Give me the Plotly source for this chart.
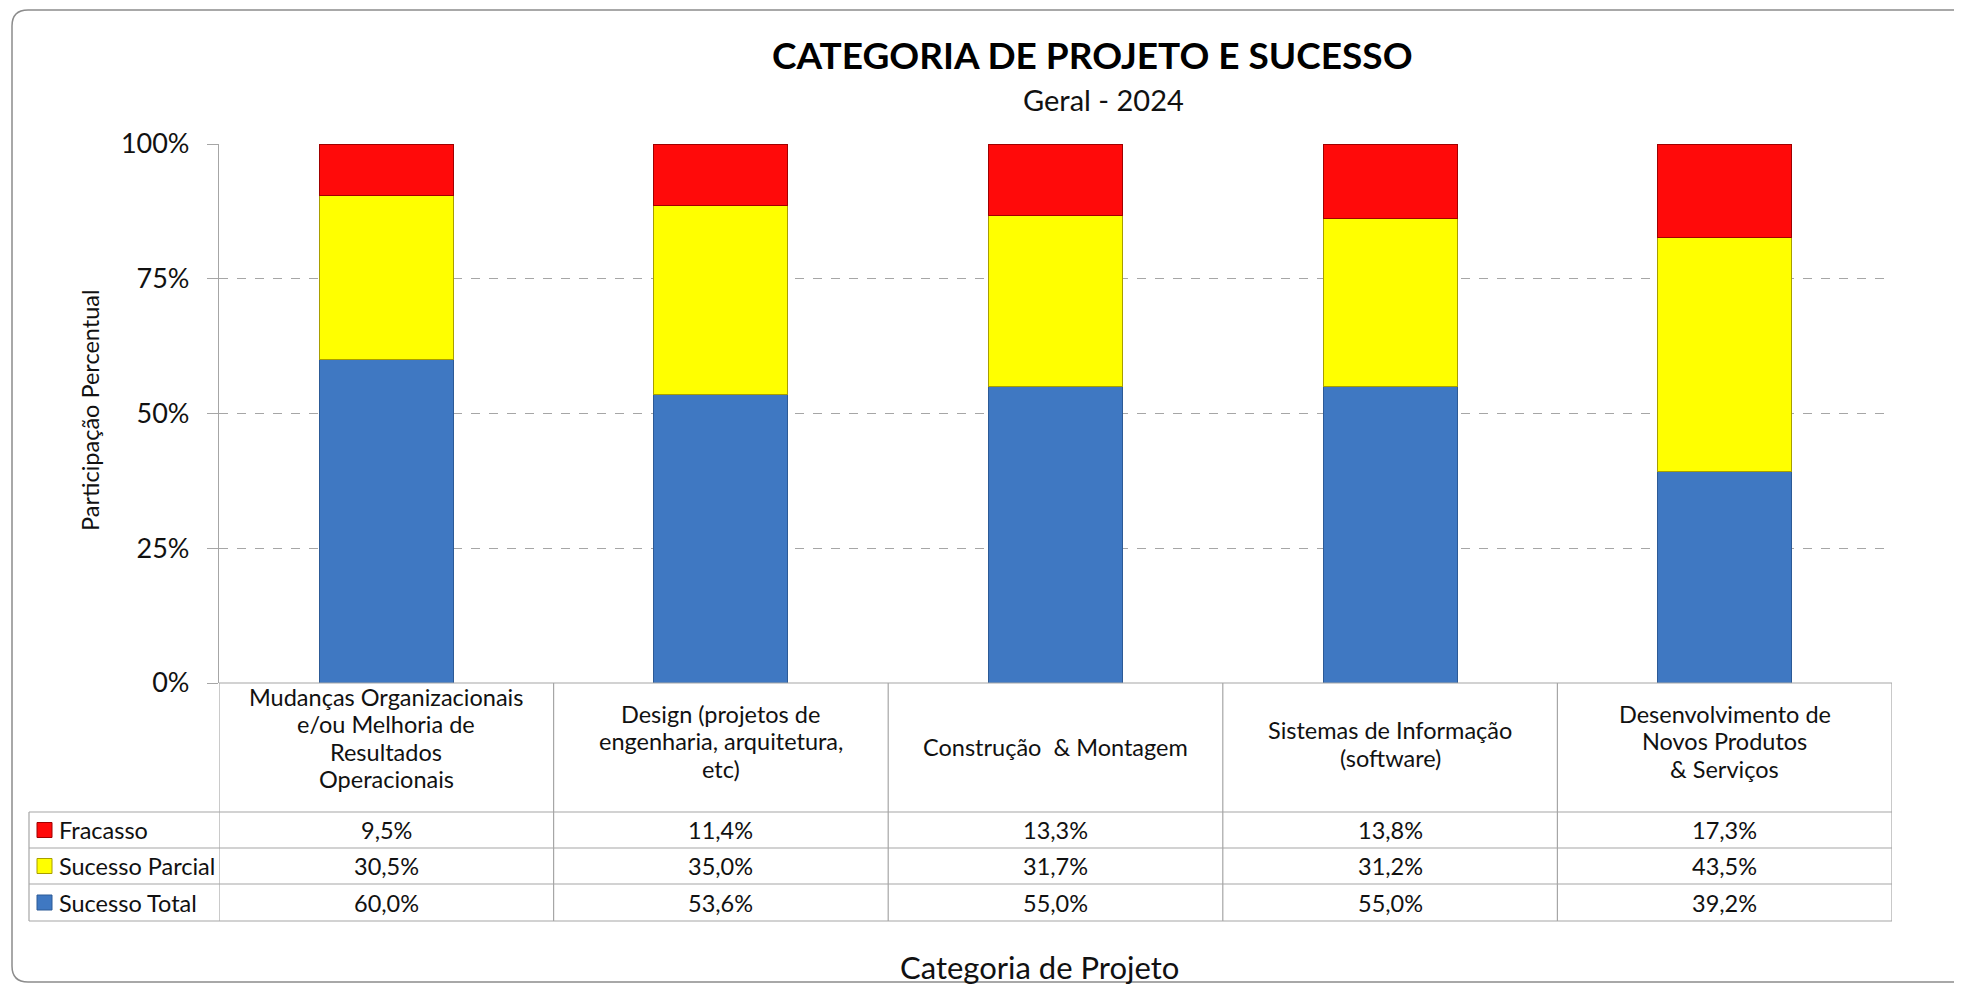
import plotly.graph_objects as go

# dados (participacao percentual por categoria)
categorias = [
    "Mudanças Organizacionais<br>e/ou Melhoria de<br>Resultados<br>Operacionais",
    "Design (projetos de<br>engenharia, arquitetura,<br>etc)",
    "Construção  & Montagem",
    "Sistemas de Informação<br>(software)",
    "Desenvolvimento de<br>Novos Produtos<br>& Serviços",
]
sucesso_total = [60.0, 53.6, 55.0, 55.0, 39.2]
sucesso_parcial = [30.5, 35.0, 31.7, 31.2, 43.5]
fracasso = [9.5, 11.4, 13.3, 13.8, 17.3]
y_ticks = [0, 25, 50, 75, 100]

W, H = 1962, 986
OFF = 8  # margem padrao do body da pagina
L, R, T, B = 219, 1892, 144, 683
FONT = "Lato"
GRID = "#a6a6a6"
TXT = "#111111"


def px(x):
    return (x - L) / (R - L)


def py(y):
    return (B - y) / (B - T)


def fmt(v):
    return f"{v:.1f}".replace(".", ",") + "%"


series = [
    ("Sucesso Total", sucesso_total, "#3f78c2", "#2c5a96"),
    ("Sucesso Parcial", sucesso_parcial, "#ffff00", "#a89e00"),
    ("Fracasso", fracasso, "#ff0a0a", "#a00000"),
]
xs = list(range(len(categorias)))

fig = go.Figure()
for nome, vals, cor, borda in series:
    fig.add_trace(go.Bar(
        x=xs, y=vals, name=nome, width=0.4,
        marker=dict(color=cor, line=dict(color=borda, width=1)),
        showlegend=False,
    ))

shapes = []
annotations = []

# borda externa arredondada
r_x, r_y = 16 / (R - L), 16 / (B - T)
x0, y0, y1, x1 = px(12), py(10), py(982), px(1990)
shapes.append(dict(
    type="path", xref="paper", yref="paper",
    path=(f"M {x1},{y0} L {x0 + r_x},{y0} Q {x0},{y0} {x0},{y0 - r_y} "
          f"L {x0},{y1 + r_y} Q {x0},{y1} {x0 + r_x},{y1} L {x1},{y1}"),
    line=dict(color="#8c8c8c", width=1.5),
))

# tabela de dados
rows_y = [812, 848, 884, 921]
left_col = 29
table_line = dict(color=GRID, width=1.2)
shapes.append(dict(type="line", xref="paper", yref="paper",
                   x0=0, x1=1, y0=py(B), y1=py(B), line=table_line))
for ry in rows_y:
    shapes.append(dict(type="line", xref="paper", yref="paper",
                       x0=px(left_col), x1=1, y0=py(ry), y1=py(ry), line=table_line))
for i in range(len(categorias) + 1):
    shapes.append(dict(type="line", xref="x", yref="paper",
                       x0=i - 0.5, x1=i - 0.5, y0=py(B), y1=py(921), line=table_line))
shapes.append(dict(type="line", xref="paper", yref="paper",
                   x0=px(left_col), x1=px(left_col), y0=py(812), y1=py(921), line=table_line))

cell_font = dict(family=FONT, size=23.5, color=TXT)
line_h = 27.5
for i, cat in enumerate(categorias):
    partes = cat.split("<br>")
    n = len(partes)
    topo = 747 - 3 * (n - 1) - line_h * (n - 1) / 2
    for j, parte in enumerate(partes):
        annotations.append(dict(x=i, xref="x", y=py(topo + j * line_h), yref="paper",
                                text=parte, showarrow=False, font=cell_font,
                                xanchor="center", yanchor="middle"))

linhas = [series[2], series[1], series[0]]
for k, (nome, vals, cor, borda) in enumerate(linhas):
    cy = (rows_y[k] + rows_y[k + 1]) / 2
    shapes.append(dict(type="rect", xref="paper", yref="paper",
                       x0=px(37), x1=px(52), y0=py(cy - 7.5), y1=py(cy + 7.5),
                       fillcolor=cor, line=dict(color=borda, width=1)))
    annotations.append(dict(x=px(57), xref="paper", y=py(cy), yref="paper", text=nome,
                            showarrow=False, font=cell_font,
                            xanchor="left", yanchor="middle"))
    for i, v in enumerate(vals):
        annotations.append(dict(x=i, xref="x", y=py(cy), yref="paper", text=fmt(v),
                                showarrow=False, font=cell_font,
                                xanchor="center", yanchor="middle"))

# titulos
annotations.append(dict(x=px(1092), xref="paper", y=py(55), yref="paper",
                        text="<b>CATEGORIA DE PROJETO E SUCESSO</b>", showarrow=False,
                        xanchor="center", yanchor="middle",
                        font=dict(family=FONT, size=37, color="#000")))
annotations.append(dict(x=px(1103), xref="paper", y=py(99), yref="paper",
                        text="Geral - 2024", showarrow=False,
                        xanchor="center", yanchor="middle",
                        font=dict(family=FONT, size=29, color=TXT)))
annotations.append(dict(x=px(90), xref="paper", y=py(410), yref="paper",
                        text="Participação Percentual", textangle=-90, showarrow=False,
                        xanchor="center", yanchor="middle",
                        font=dict(family=FONT, size=23.5, color=TXT)))
annotations.append(dict(x=px(1039), xref="paper", y=py(967), yref="paper",
                        text="Categoria de Projeto", showarrow=False,
                        xanchor="center", yanchor="middle",
                        font=dict(family=FONT, size=31, color=TXT)))

fig.update_layout(
    width=W - OFF, height=H - OFF,
    margin=dict(l=L - OFF, r=W - R, t=T - OFF, b=H - B),
    barmode="stack",
    plot_bgcolor="white", paper_bgcolor="white",
    font=dict(family=FONT, color=TXT),
    shapes=shapes, annotations=annotations,
)
fig.update_xaxes(range=[-0.5, len(categorias) - 0.5], showticklabels=False,
                 showgrid=False, zeroline=False, showline=False, ticks="")
fig.update_yaxes(range=[0, 100], tickvals=y_ticks, ticktext=[f"{v}%" for v in y_ticks],
                 tickfont=dict(family=FONT, size=27, color=TXT),
                 showgrid=True, gridcolor=GRID, griddash="dash", gridwidth=1,
                 zeroline=False, showline=True, linecolor=GRID, linewidth=1.2,
                 ticks="outside", ticklen=11, tickcolor=GRID, ticklabelstandoff=12)

fig.write_html("out.html")
